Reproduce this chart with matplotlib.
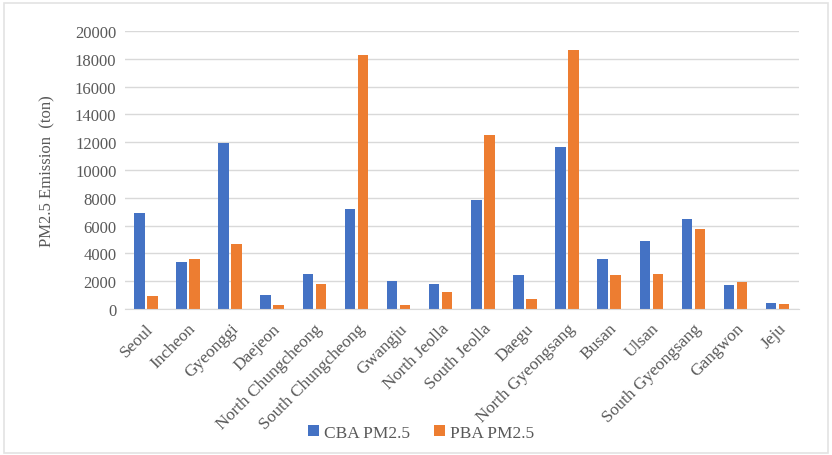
import numpy as np
import matplotlib
matplotlib.use('Agg')
from matplotlib import pyplot as plt
from matplotlib.patches import Rectangle

# PM2.5 emissions by region, consumption-based vs production-based (ton)
regions = ['Seoul', 'Incheon', 'Gyeonggi', 'Daejeon', 'North Chungcheong',
           'South Chungcheong', 'Gwangju', 'North Jeolla', 'South Jeolla',
           'Daegu', 'North Gyeongsang', 'Busan', 'Ulsan', 'South Gyeongsang',
           'Gangwon', 'Jeju']
cba = [6880, 3420, 11960, 1010, 2500, 7170, 2000, 1800, 7820,
       2480, 11650, 3590, 4890, 6450, 1760, 460]
pba = [920, 3610, 4670, 290, 1780, 18290, 290, 1200, 12540,
       720, 18600, 2480, 2550, 5780, 1930, 340]
yticks = list(range(0, 20001, 2000))

plt.rcParams['font.family'] = ['Liberation Serif', 'DejaVu Serif']
grey = '#595959'

fig = plt.figure(figsize=(8.32, 4.56), dpi=100)
ax = fig.add_axes([0.150, 0.320, 0.810, 0.610])

x = np.arange(len(regions))
w = 0.25
ax.bar(x - w / 2 - 0.03, cba, width=w, color='#4472C4', label='CBA PM2.5')
ax.bar(x + w / 2 + 0.03, pba, width=w, color='#ED7D31', label='PBA PM2.5')

ax.set_xlim(-0.5, len(regions) - 0.5)
ax.set_ylim(0, 20000)
ax.set_yticks(yticks)
ax.set_yticklabels([str(t) for t in yticks], fontsize=12, color=grey)
ax.set_xticks(x)
ax.set_xticklabels(regions, rotation=45, ha='right', rotation_mode='anchor',
                   fontsize=12.5, color=grey)
ax.tick_params(axis='both', length=0, pad=6)
ax.tick_params(axis='x', pad=8)

ax.grid(axis='y', color='#d9d9d9', linewidth=1)
ax.set_axisbelow(True)
for s in ['top', 'right', 'left']:
    ax.spines[s].set_visible(False)
ax.spines['bottom'].set_color('#d9d9d9')

ax.set_ylabel('PM2.5 Emission  (ton)', fontsize=12, color=grey, labelpad=14)

ax.legend(loc='lower center', bbox_to_anchor=(0.44, -0.53), ncol=2,
          frameon=False, fontsize=12.5, handlelength=0.6, handleheight=0.6,
          handletextpad=0.3, columnspacing=1.4, labelcolor=grey)

# thin frame around the chart area
fig.patches.append(Rectangle((0.005, 0.004), 0.990, 0.987, transform=fig.transFigure,
                             fill=False, edgecolor='#e3e3e3', linewidth=1.2))

fig.savefig('out.png', dpi=100)
